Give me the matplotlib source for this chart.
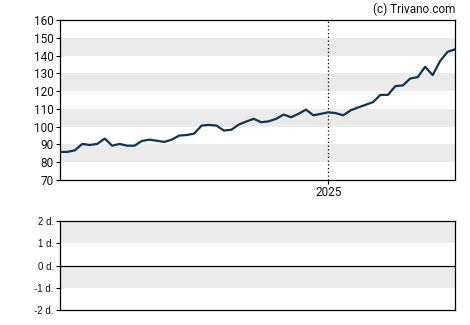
import numpy as np
import pandas as pd
import matplotlib.pyplot as plt
import matplotlib.dates as mdates

# weekly closing prices
dates = pd.date_range('2024-04-24', periods=54, freq='7D')
prices = [85.8, 85.8, 86.7, 90.3, 89.7, 90.3, 93.3, 89.3, 90.3, 89.3,
          89.3, 92.0, 92.7, 92.1, 91.4, 92.7, 95.0, 95.3, 96.1, 100.6,
          101.0, 100.6, 97.8, 98.3, 101.2, 102.9, 104.4, 102.5, 103.0, 104.4,
          106.8, 105.3, 107.2, 109.6, 106.4, 107.2, 108.1, 107.6, 106.4, 109.2,
          110.8, 112.3, 113.8, 117.9, 117.9, 122.8, 123.2, 127.1, 127.9, 133.7,
          129.0, 136.9, 142.1, 143.5]
year_mark = pd.Timestamp('2025-01-01')

price_ticks = [70, 80, 90, 100, 110, 120, 130, 140, 150, 160]
price_bands = [(80, 90), (100, 110), (120, 130), (140, 150)]
lower_ticks = [-2, -1, 0, 1, 2]
lower_labels = ['-2 d.', '-1 d.', '0 d.', '1 d.', '2 d.']
lower_bands = [(1, 2), (-1, 0)]

band_color = '#ebebeb'
line_color = '#0e3450'

fig = plt.figure(figsize=(4.7, 3.25), dpi=100)
ax = fig.add_axes([60 / 470, 1 - 180 / 325, 395 / 470, 160 / 325])
ax2 = fig.add_axes([60 / 470, 1 - 310 / 325, 395 / 470, 89 / 325])

for lo, hi in price_bands:
    ax.axhspan(lo, hi, color=band_color, lw=0, zorder=0)
ax.plot(dates, prices, color=line_color, lw=1.6, zorder=3)
ax.axvline(year_mark, color='black', ls=(0, (1, 2)), lw=0.9, zorder=2)
ax.set_xlim(dates[0], dates[-1])
ax.set_ylim(70, 160)
ax.set_yticks(price_ticks)
ax.set_xticks([year_mark])
ax.xaxis.set_major_formatter(mdates.DateFormatter('%Y'))
ax.tick_params(axis='both', labelsize=8.5, length=3, width=0.8, pad=1.5,
               colors='black', labelcolor='#111111')
for lab in ax.get_xticklabels() + ax.get_yticklabels():
    lab.set_fontfamily('Roboto')
for s in ax.spines.values():
    s.set_linewidth(0.9)

fig.text(455 / 470, 1 - 9 / 325, '(c) Trivano.com', ha='right', va='center',
         fontsize=8.5, family='Roboto', color='#111111')

for lo, hi in lower_bands:
    ax2.axhspan(lo, hi, color=band_color, lw=0, zorder=0)
ax2.axhline(0, color='black', lw=0.9)
ax2.set_xlim(dates[0], dates[-1])
ax2.set_ylim(-2, 2)
ax2.set_xticks([])
ax2.set_yticks(lower_ticks)
ax2.set_yticklabels(lower_labels)
ax2.tick_params(axis='y', labelsize=7, length=3, width=0.8, pad=1.5,
                labelcolor='#111111')
for lab in ax2.get_yticklabels():
    lab.set_fontfamily('Liberation Sans')
for s in ax2.spines.values():
    s.set_linewidth(0.9)

fig.savefig('out.png', dpi=100)
